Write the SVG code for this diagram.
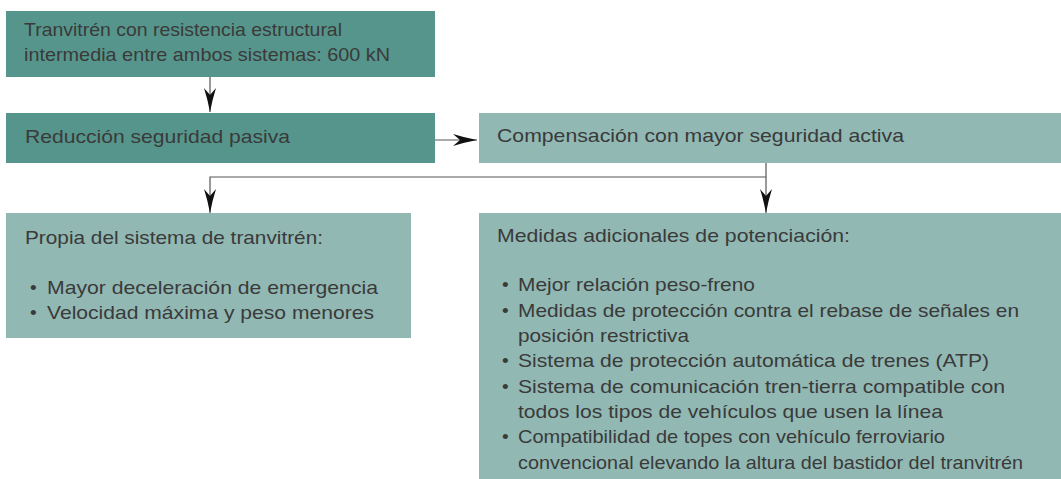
<svg xmlns="http://www.w3.org/2000/svg" width="1061" height="479" viewBox="0 0 1061 479">
<style>
.dark{fill:#56958b}
.light{fill:#91b8b3}
text{font-family:"Liberation Sans",Arial,sans-serif;font-size:19px;fill:#3a3a3a}
.ln{stroke:#555;stroke-width:1.2;fill:none}
</style>
<defs>
<marker id="ah" viewBox="-1 -7 26 14" refX="24" refY="0" markerWidth="26" markerHeight="14" markerUnits="userSpaceOnUse" orient="auto">
<path d="M0,-6 Q11,-2.5 24,0 Q11,2.5 0,6 L7,0 Z" fill="#111"/>
</marker>
</defs>
<rect width="1061" height="479" fill="#fff"/>
<g id="connectors">
<line class="ln" x1="210" y1="77" x2="210" y2="112" marker-end="url(#ah)"/>
<line class="ln" x1="435" y1="140" x2="477" y2="140" marker-end="url(#ah)"/>
<line class="ln" x1="766" y1="163" x2="766" y2="213" marker-end="url(#ah)"/>
<polyline class="ln" points="766,177 210,177 210,213" marker-end="url(#ah)"/>
</g>
<g id="n1">
<rect class="dark" x="6" y="11" width="429" height="66"/>
<text x="24" y="36" textLength="318" lengthAdjust="spacingAndGlyphs">Tranvitrén con resistencia estructural</text>
<text x="24" y="61" textLength="366" lengthAdjust="spacingAndGlyphs">intermedia entre ambos sistemas: 600 kN</text>
</g>
<g id="n2">
<rect class="dark" x="6" y="113" width="429" height="50"/>
<text x="25" y="143" textLength="265" lengthAdjust="spacingAndGlyphs">Reducción seguridad pasiva</text>
</g>
<g id="n3">
<rect class="light" x="479" y="113" width="582" height="50"/>
<text x="497" y="142" textLength="407" lengthAdjust="spacingAndGlyphs">Compensación con mayor seguridad activa</text>
</g>
<g id="n4">
<rect class="light" x="6" y="213" width="405" height="125"/>
<text x="25" y="244" textLength="298" lengthAdjust="spacingAndGlyphs">Propia del sistema de tranvitrén:</text>
<text x="30" y="294">•</text><text x="47" y="294" textLength="331" lengthAdjust="spacingAndGlyphs">Mayor deceleración de emergencia</text>
<text x="30" y="319">•</text><text x="47" y="319" textLength="327" lengthAdjust="spacingAndGlyphs">Velocidad máxima y peso menores</text>
</g>
<g id="n5">
<rect class="light" x="479" y="213" width="582" height="266"/>
<text x="497" y="242" textLength="353" lengthAdjust="spacingAndGlyphs">Medidas adicionales de potenciación:</text>
<text x="502" y="291">•</text><text x="518" y="291" textLength="237" lengthAdjust="spacingAndGlyphs">Mejor relación peso-freno</text>
<text x="502" y="317">•</text><text x="518" y="317" textLength="501" lengthAdjust="spacingAndGlyphs">Medidas de protección contra el rebase de señales en</text>
<text x="518" y="342" textLength="171" lengthAdjust="spacingAndGlyphs">posición restrictiva</text>
<text x="502" y="367">•</text><text x="518" y="367" textLength="471" lengthAdjust="spacingAndGlyphs">Sistema de protección automática de trenes (ATP)</text>
<text x="502" y="393">•</text><text x="518" y="393" textLength="487" lengthAdjust="spacingAndGlyphs">Sistema de comunicación tren-tierra compatible con</text>
<text x="518" y="418" textLength="425" lengthAdjust="spacingAndGlyphs">todos los tipos de vehículos que usen la línea</text>
<text x="502" y="443">•</text><text x="518" y="443" textLength="427" lengthAdjust="spacingAndGlyphs">Compatibilidad de topes con vehículo ferroviario</text>
<text x="518" y="469" textLength="505" lengthAdjust="spacingAndGlyphs">convencional elevando la altura del bastidor del tranvitrén</text>
</g>
</svg>
